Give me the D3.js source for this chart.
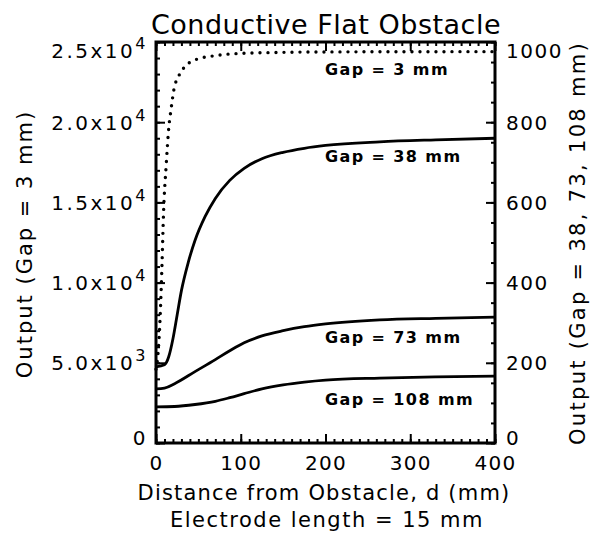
<!DOCTYPE html>
<html>
<head>
<meta charset="utf-8">
<script src="https://cdn.jsdelivr.net/npm/d3@7"></script>
<style>
  body { margin: 0; background: #fff; }
  svg { display: block; }
  text { fill: #000; font-family: "DejaVu Sans", sans-serif; }
</style>
</head>
<body>
<svg width="592" height="536"></svg>
<script>
// data (distance in mm, output in arbitrary units)
const gap3Distance = [0, 3, 5, 7, 9, 12, 15, 18, 21, 27, 33, 47, 70, 106, 200, 400];
const gap3Output = [4600, 6000, 8000, 11000, 14500, 17300, 19600, 20900, 22000, 22900, 23400, 23900, 24150, 24300, 24380, 24400];

const gap38Distance = [0, 10, 15, 20, 25, 30, 38, 46, 58, 70, 87, 104, 125, 150, 175, 200, 264, 330, 400];
const gap38Output = [190, 195, 215, 260, 320, 380, 450, 505, 565, 610, 655, 685, 709, 725, 735, 742, 751, 756, 760];

const gap73Distance = [0, 10, 22, 46, 70, 87, 104, 125, 150, 175, 200, 264, 330, 400];
const gap73Output = [135, 137, 148, 178, 208, 230, 250, 267, 280, 290, 297, 307, 311, 314];

const gap108Distance = [0, 22, 46, 70, 87, 104, 125, 150, 175, 200, 264, 330, 400];
const gap108Output = [90, 91, 96, 104, 113, 123, 135, 145, 152, 157, 162, 165, 167];

const xTicks = [0, 100, 200, 300, 400];
const leftTicks = [0, 5000, 10000, 15000, 20000, 25000];
const leftTickLabels = [["0", ""], ["5.0x10", "3"], ["1.0x10", "4"], ["1.5x10", "4"], ["2.0x10", "4"], ["2.5x10", "4"]];
const rightTicks = [0, 200, 400, 600, 800, 1000];

const curveLabels = ["Gap = 3 mm", "Gap = 38 mm", "Gap = 73 mm", "Gap = 108 mm"];

const svg = d3.select('svg');

// plot frame in pixels
const plotLeft = 156, plotRight = 495, plotTop = 42, plotBottom = 443;

const x = d3.scaleLinear().domain([0, 400]).range([plotLeft, plotRight]);
const yLeft = d3.scaleLinear().domain([0, 25000]).range([plotBottom, plotTop]);
const yRight = d3.scaleLinear().domain([0, 1000]).range([plotBottom, plotTop]);

// minor ticks
const minorX = d3.range(0, 401, 10);
const minorLeft = d3.range(0, 25001, 1000);
const minorRight = d3.range(0, 1001, 50);

function addAxis(axis, tx, ty) {
  const g = svg.append('g')
    .attr('transform', `translate(${tx},${ty})`)
    .call(axis);
  g.select('.domain').remove();
  g.selectAll('line').attr('stroke', '#000').attr('stroke-width', 2);
  return g;
}

// end labels on the vertical axes sit a little inside the frame
function labelShift(i, n) {
  if (i === 0) return -6;
  if (i === n - 1) return 8;
  return 0;
}

addAxis(d3.axisBottom(x).tickValues(minorX).tickSize(-4).tickFormat(''), 0, plotBottom);
addAxis(d3.axisTop(x).tickValues(minorX).tickSize(-4).tickFormat(''), 0, plotTop);
addAxis(d3.axisLeft(yLeft).tickValues(minorLeft).tickSize(-4).tickFormat(''), plotLeft, 0);
addAxis(d3.axisRight(yRight).tickValues(minorRight).tickSize(-4).tickFormat(''), plotRight, 0);

// major ticks with labels
const xAxis = addAxis(d3.axisBottom(x).tickValues(xTicks).tickSize(-9).tickPadding(12).tickFormat(d3.format('d')), 0, plotBottom);
xAxis.selectAll('text')
  .attr('font-size', 20).attr('letter-spacing', 1.2)
  .attr('dy', '0.75em');
addAxis(d3.axisTop(x).tickValues(xTicks).tickSize(-9).tickFormat(''), 0, plotTop);

const leftAxis = addAxis(d3.axisLeft(yLeft).tickValues(leftTicks).tickSize(-9).tickPadding(8).tickFormat(''), plotLeft, 0);
leftAxis.selectAll('.tick text').each(function (d, i) {
  const t = d3.select(this)
    .attr('font-size', 20)
    .attr('letter-spacing', 2.5)
    .attr('y', labelShift(i, leftTicks.length))
    .attr('dy', '0.35em')
    .attr('text-anchor', 'end');
  const lab = leftTickLabels[i];
  t.append('tspan').text(lab[0]);
  if (lab[1]) {
    t.append('tspan').attr('font-size', 16).attr('dy', -9).text(lab[1]);
  }
});

const rightAxis = addAxis(d3.axisRight(yRight).tickValues(rightTicks).tickSize(-9).tickPadding(11).tickFormat(d3.format('d')), plotRight, 0);
rightAxis.selectAll('text')
  .attr('font-size', 20).attr('letter-spacing', 1.5)
  .attr('y', (d, i) => labelShift(i, rightTicks.length))
  .attr('dy', '0.35em');

// frame
svg.append('rect')
  .attr('x', plotLeft).attr('y', plotTop)
  .attr('width', plotRight - plotLeft).attr('height', plotBottom - plotTop)
  .attr('fill', 'none').attr('stroke', '#000').attr('stroke-width', 3);

// curves
const lineLeft = d3.line().x(d => x(d[0])).y(d => yLeft(d[1])).curve(d3.curveMonotoneX);
const lineRight = d3.line().x(d => x(d[0])).y(d => yRight(d[1])).curve(d3.curveMonotoneX);

svg.append('path')
  .datum(d3.zip(gap3Distance, gap3Output))
  .attr('d', lineLeft)
  .attr('fill', 'none').attr('stroke', '#000')
  .attr('stroke-width', 3.4).attr('stroke-linecap', 'round')
  .attr('stroke-dasharray', '0 8');

[[gap38Distance, gap38Output], [gap73Distance, gap73Output], [gap108Distance, gap108Output]].forEach(s => {
  svg.append('path')
    .datum(d3.zip(s[0], s[1]))
    .attr('d', lineRight)
    .attr('fill', 'none').attr('stroke', '#000')
    .attr('stroke-width', 2.8);
});

// curve labels
const labelY = [75, 162, 343, 405];
curveLabels.forEach((txt, i) => {
  svg.append('text')
    .attr('x', 325).attr('y', labelY[i])
    .attr('font-size', 16).attr('font-weight', 'bold')
    .attr('letter-spacing', 1.4)
    .text(txt);
});

// titles
svg.append('text')
  .attr('x', 326).attr('y', 34)
  .attr('text-anchor', 'middle').attr('font-size', 27)
  .attr('letter-spacing', 0.5)
  .text('Conductive Flat Obstacle');

svg.append('text')
  .attr('x', 324).attr('y', 500)
  .attr('text-anchor', 'middle').attr('font-size', 21)
  .attr('letter-spacing', 1.2)
  .text('Distance from Obstacle, d (mm)');

svg.append('text')
  .attr('x', 327).attr('y', 527)
  .attr('text-anchor', 'middle').attr('font-size', 21)
  .attr('letter-spacing', 1.5)
  .text('Electrode length = 15 mm');

svg.append('text')
  .attr('transform', 'translate(32,244) rotate(-90)')
  .attr('text-anchor', 'middle').attr('font-size', 21)
  .attr('letter-spacing', 2)
  .text('Output (Gap = 3 mm)');

svg.append('text')
  .attr('transform', 'translate(585,243) rotate(-90)')
  .attr('text-anchor', 'middle').attr('font-size', 21)
  .attr('letter-spacing', 2.3)
  .text('Output (Gap = 38, 73, 108 mm)');
</script>
</body>
</html>
